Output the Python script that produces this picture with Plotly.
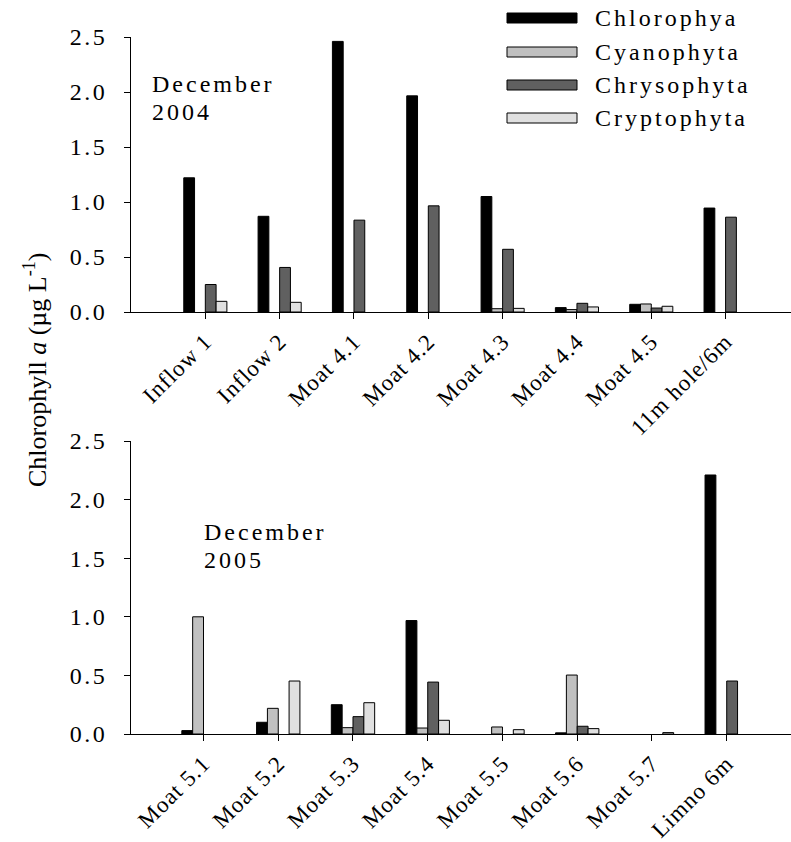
import plotly.graph_objects as go

# ---------------- data ----------------
series_names = ["Chlorophya", "Cyanophyta", "Chrysophyta", "Cryptophyta"]
series_colors = ["#000000", "#c0c0c0", "#606060", "#e0e0e0"]

sites_2004 = ["Inflow 1", "Inflow 2", "Moat 4.1", "Moat 4.2", "Moat 4.3",
              "Moat 4.4", "Moat 4.5", "11m hole/6m"]
chloro_2004 = [1.22, 0.87, 2.46, 1.965, 1.05, 0.04, 0.07, 0.945]
cyano_2004 = [0.0, 0.0, 0.0, 0.0, 0.03, 0.022, 0.073, 0.0]
chryso_2004 = [0.25, 0.405, 0.835, 0.965, 0.57, 0.079, 0.036, 0.862]
crypto_2004 = [0.097, 0.088, 0.0, 0.0, 0.033, 0.046, 0.052, 0.0]

sites_2005 = ["Moat 5.1", "Moat 5.2", "Moat 5.3", "Moat 5.4", "Moat 5.5",
              "Moat 5.6", "Moat 5.7", "Limno 6m"]
chloro_2005 = [0.029, 0.10, 0.25, 0.968, 0.0, 0.01, 0.0, 2.21]
cyano_2005 = [1.0, 0.219, 0.054, 0.051, 0.06, 0.503, 0.0, 0.0]
chryso_2005 = [0.0, 0.0, 0.148, 0.443, 0.0, 0.066, 0.0, 0.452]
crypto_2005 = [0.0, 0.452, 0.267, 0.117, 0.037, 0.046, 0.012, 0.0]

y_ticks = [0.0, 0.5, 1.0, 1.5, 2.0, 2.5]

# ---------------- figure ----------------
W, H = 791, 842
FONT = "Liberation Serif, Times New Roman, serif"
FS = 24
FS_X = 23
fig = go.Figure()

panels = [
    (sites_2004, [chloro_2004, cyano_2004, chryso_2004, crypto_2004], "x", "y"),
    (sites_2005, [chloro_2005, cyano_2005, chryso_2005, crypto_2005], "x2", "y2"),
]
for sites, vals, xa, ya in panels:
    for name, col, v in zip(series_names, series_colors, vals):
        fig.add_trace(go.Bar(
            x=sites, y=[val if val > 0 else None for val in v],
            name=name, xaxis=xa, yaxis=ya,
            marker=dict(color=col, line=dict(color="#000000", width=1)),
            showlegend=False,
        ))

def px_x(p):
    return p / W

def px_y(p):
    return 1 - p / H

axis_common = dict(
    showline=True, linecolor="black", linewidth=1, mirror=False,
    showgrid=False, zeroline=False, automargin=False,
    ticks="outside", ticklen=6, tickcolor="black", tickwidth=1,
)
yfont = dict(tickfont=dict(family=FONT, size=FS, color="black"))
xfont = dict(tickfont=dict(family=FONT, size=FS_X, color="black"))

x_dom = [px_x(131), 1.0]
fig.update_layout(
    template="none",
    width=W, height=H,
    margin=dict(l=0, r=0, t=0, b=0, pad=0),
    paper_bgcolor="white", plot_bgcolor="white",
    barmode="group", bargap=0.42, bargroupgap=0.0,
    showlegend=False,
    xaxis=dict(domain=x_dom, anchor="y", type="category", range=[-1.0, 7.88],
               tickangle=-45, ticklabelstandoff=0, **axis_common, **xfont),
    yaxis=dict(domain=[px_y(312), px_y(37)], anchor="x", range=[0, 2.5],
               tickvals=y_ticks, tickformat=".1f", ticklabelstandoff=12,
               **axis_common, **yfont),
    xaxis2=dict(domain=x_dom, anchor="y2", type="category", range=[-0.97, 7.86],
                tickangle=-45, ticklabelstandoff=0, **axis_common, **xfont),
    yaxis2=dict(domain=[px_y(734), px_y(441)], anchor="x2", range=[0, 2.5],
                tickvals=y_ticks, tickformat=".1f", ticklabelstandoff=12,
                **axis_common, **yfont),
)

# y-axis title (annotation index 0)
fig.add_annotation(
    text="Chlorophyll <i>a</i> (µg L<sup>-1</sup>)",
    xref="paper", yref="paper", x=px_x(35), y=px_y(370),
    xanchor="center", yanchor="middle", textangle=-90, showarrow=False,
    font=dict(family=FONT, size=26, color="black"),
)

annots = [
    ("December", 150, 84), ("2004", 150, 112),
    ("December", 202, 532), ("2005", 202, 560),
]
for txt, xl, yc in annots:
    fig.add_annotation(text=txt, xref="paper", yref="paper",
                       x=px_x(xl), y=px_y(yc), xanchor="left", yanchor="middle",
                       align="left", showarrow=False,
                       font=dict(family=FONT, size=FS, color="black"))

# custom legend (wide swatches)
leg_rows = [18, 52, 85, 118]
for name, col, yc in zip(series_names, series_colors, leg_rows):
    fig.add_shape(type="rect", xref="paper", yref="paper",
                  x0=px_x(507), x1=px_x(577), y0=px_y(yc + 5), y1=px_y(yc - 5),
                  fillcolor=col, line=dict(color="#000000", width=1))
    fig.add_annotation(text=name, xref="paper", yref="paper",
                       x=px_x(593), y=px_y(yc), xanchor="left", yanchor="middle",
                       align="left", showarrow=False,
                       font=dict(family=FONT, size=FS, color="black"))

post = """
var s = document.createElement('style');
s.innerHTML = '.ytick text, .y2tick text {letter-spacing: 2.5px;}' +
  ' .xtick text, .x2tick text {letter-spacing: 1px;}' +
  ' g.annotation:not([data-index="0"]) text {letter-spacing: 3px;}';
document.head.appendChild(s);
"""

fig.write_html("out.html", post_script=post)
